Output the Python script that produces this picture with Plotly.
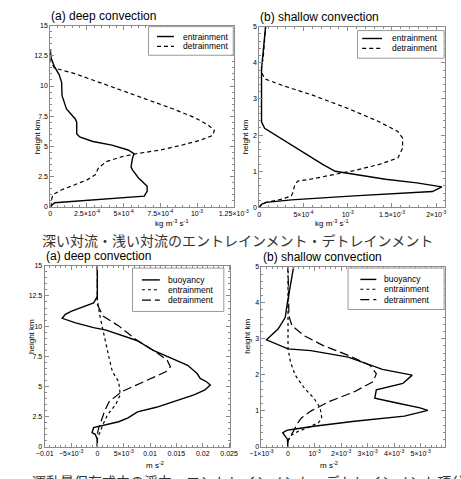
import plotly.graph_objects as go

W, H = 461, 479

# ---------------- data (heights in km) ----------------
# (a) deep convection: entrainment / detrainment [kg m-3 s-1]
ent_deep_z = [0, 0.33, 0.87, 1.28, 1.7, 2.4, 3.05, 3.3, 4.0, 4.4, 4.7, 5.1, 5.4, 5.78, 6.05, 7.0, 7.27,
              8.1, 9.2, 10.3, 10.95, 11.6, 12.3, 12.7, 13.0]
ent_deep = [0, 0.03e-3, 0.64e-3, 0.66e-3, 0.66e-3, 0.6e-3, 0.56e-3, 0.55e-3, 0.56e-3, 0.57e-3, 0.53e-3,
            0.42e-3, 0.29e-3, 0.2e-3, 0.18e-3, 0.18e-3, 0.17e-3, 0.11e-3, 0.08e-3, 0.077e-3, 0.06e-3,
            0.028e-3, 0.006e-3, 0, 0]
det_deep_z = [0, 0.46, 1.0, 1.42, 1.82, 2.23, 2.64, 3.19, 3.73, 4.14, 4.41, 4.68, 5.09, 5.5, 5.9, 6.32,
              6.78, 7.41, 8.14, 8.9, 9.67, 10.32, 11.03, 11.49, 12.0, 12.7]
det_deep = [0.006e-3, 0.006e-3, 0.017e-3, 0.081e-3, 0.167e-3, 0.252e-3, 0.306e-3, 0.327e-3, 0.38e-3,
            0.487e-3, 0.594e-3, 0.744e-3, 0.893e-3, 1.02e-3, 1.107e-3, 1.118e-3, 1.075e-3, 0.979e-3,
            0.829e-3, 0.658e-3, 0.487e-3, 0.338e-3, 0.167e-3, 0.028e-3, 0.004e-3, 0]

# (b) shallow convection: entrainment / detrainment [kg m-3 s-1]
ent_shal_z = [0, 0.09, 0.14, 0.21, 0.32, 0.38, 0.44, 0.57, 0.68, 0.78, 0.91, 1.0, 1.19, 1.46, 1.73,
              2.01, 2.19, 2.37, 2.92, 3.83, 4.29, 4.74, 5.0]
ent_shal = [0, 0.025e-3, 0.078e-3, 0.362e-3, 1.071e-3, 1.603e-3, 1.957e-3, 2.064e-3, 1.78e-3, 1.426e-3,
            1.071e-3, 0.858e-3, 0.716e-3, 0.539e-3, 0.362e-3, 0.184e-3, 0.06e-3, 0.025e-3, 0.025e-3,
            0.025e-3, 0.043e-3, 0.06e-3, 0.071e-3]
det_shal_z = [0, 0.05, 0.14, 0.23, 0.32, 0.41, 0.59, 0.73, 0.78, 0.91, 1.02, 1.19, 1.37, 1.64, 1.92,
              2.1, 2.37, 2.74, 3.1, 3.38, 3.56, 3.74, 3.92, 4.1, 4.56, 5.0]
det_shal = [0, 0.007e-3, 0.078e-3, 0.255e-3, 0.362e-3, 0.379e-3, 0.397e-3, 0.433e-3, 0.574e-3, 0.823e-3,
            1.071e-3, 1.355e-3, 1.567e-3, 1.62e-3, 1.62e-3, 1.567e-3, 1.355e-3, 1.0e-3, 0.61e-3,
            0.255e-3, 0.06e-3, 0.025e-3, 0.025e-3, 0.043e-3, 0.06e-3, 0.071e-3]

# (a) deep convection: momentum budget terms [m s-2]
mb_deep_z = [0, 0.63, 1.03, 1.17, 1.58, 1.8, 2.07, 2.4, 2.89, 3.27, 3.76, 4.3, 4.71, 5.12, 5.39, 5.66,
             6.07, 6.75, 7.43, 7.98, 8.79, 9.26, 9.67, 9.88, 10.29, 10.65, 10.97, 11.24, 11.65, 11.92,
             12.47, 15.0]
buoy_deep = [0, 0, -0.00042, -0.00101, -0.00071, 0.00167, 0.00405, 0.00583, 0.00762, 0.01119, 0.01476,
             0.01833, 0.02042, 0.02143, 0.02071, 0.01952, 0.01893, 0.01714, 0.01357, 0.0106, 0.00762,
             0.00464, 0.00167, -0.00071, -0.00429, -0.00667, -0.00607, -0.00488, -0.0025, -0.00071,
             0, 0]
me_deep_z = [0, 0.63, 0.9, 1.17, 1.85, 2.67, 3.48, 4.3, 5.39, 6.21, 7.3, 8.39, 9.75, 10.84, 11.65, 12.2, 15.0]
ment_deep = [0, 0, 0.00018, 0.00048, 0.00107, 0.00196, 0.00345, 0.00435, 0.00405, 0.00286, 0.00226,
             0.00167, 0.00107, 0.00048, 0.00018, 0, 0]
md_deep_z = [0, 1.03, 1.44, 2.12, 2.94, 3.76, 4.57, 5.39, 6.21, 6.62, 7.16, 7.84, 8.79, 10.02, 10.84,
             11.79, 15.0]
mdet_deep = [0, 0, 0.00018, 0.00077, 0.00137, 0.00226, 0.00464, 0.00881, 0.01298, 0.01387, 0.01327,
             0.01119, 0.00762, 0.00405, 0.00107, 0, 0]

# (b) shallow convection: momentum budget terms [m s-2]
mb_shal_z = [0, 0.21, 0.39, 0.46, 0.48, 0.57, 0.71, 0.85, 1.01, 1.08, 1.21, 1.35, 1.58, 1.76, 1.99,
             2.15, 2.49, 2.67, 2.72, 2.86, 2.97, 3.27, 3.59, 4.0, 4.54, 5.0]
buoy_shal = [0, -0.024e-3, -0.2e-3, -0.024e-3, 0.153e-3, 0.976e-3, 2.506e-3, 4.388e-3, 5.271e-3,
             4.976e-3, 4.153e-3, 3.271e-3, 3.329e-3, 4.329e-3, 4.682e-3, 3.56e-3, 2.27e-3, 0.86e-3, 0,
             -0.435e-3, -0.812e-3, -0.376e-3, -0.106e-3, -0.024e-3, 0.094e-3, 0.212e-3]
me_shal_z = [0, 0.16, 0.3, 0.39, 0.53, 0.67, 0.8, 1.08, 1.35, 1.62, 1.99, 2.35, 2.72, 5.0]
ment_shal = [0, 0, 0.094e-3, 0.271e-3, 0.741e-3, 1.153e-3, 1.271e-3, 1.212e-3, 0.976e-3, 0.624e-3,
             0.271e-3, 0.094e-3, 0, 0]
md_shal_z = [0, 0.16, 0.3, 0.44, 0.62, 0.8, 0.99, 1.26, 1.53, 1.81, 2.03, 2.26, 2.54, 2.81, 3.08, 3.36,
             3.63, 5.0]
mdet_shal = [0, 0, 0.094e-3, 0.212e-3, 0.329e-3, 0.506e-3, 0.859e-3, 1.565e-3, 2.506e-3, 3.212e-3,
             3.329e-3, 3.094e-3, 2.271e-3, 1.329e-3, 0.624e-3, 0.153e-3, 0.035e-3, 0]

# tick labels
deep_y_ticks = [0, 2.5, 5, 7.5, 10, 12.5, 15]
deep_y_text = ["0", "2.5", "5", "7.5", "10", "12.5", "15"]
shal_y_ticks = [0, 1, 2, 3, 4, 5]
shal_y_text = ["0", "1", "2", "3", "4", "5"]
x1_ticks = [0, 2.5e-4, 5e-4, 7.5e-4, 1e-3, 1.25e-3]
x1_text = ["0", "2.5×10<sup>-4</sup>", "5×10<sup>-4</sup>", "7.5×10<sup>-4</sup>", "10<sup>-3</sup>",
           "1.25×10<sup>-3</sup>"]
x2_ticks = [0, 5e-4, 1e-3, 1.5e-3, 2e-3]
x2_text = ["0", "5×10<sup>-4</sup>", "10<sup>-3</sup>", "1.5×10<sup>-3</sup>", "2×10<sup>-3</sup>"]
x3_ticks = [-0.01, -0.005, 0, 0.005, 0.01, 0.015, 0.02, 0.025]
x3_text = ["−0.01", "−5×10<sup>-3</sup>", "0", "5×10<sup>-3</sup>", "0.01", "0.015", "0.02", "0.025"]
x4_ticks = [-1e-3, 0, 1e-3, 2e-3, 3e-3, 4e-3, 5e-3]
x4_text = ["−1×10<sup>-3</sup>", "0", "10<sup>-3</sup>", "2×10<sup>-3</sup>", "3×10<sup>-3</sup>",
           "4×10<sup>-3</sup>", "5×10<sup>-3</sup>"]

titles = ["(a) deep convection", "(b) shallow convection", "(a) deep convection", "(b) shallow convection"]
caption1 = "深い対流・浅い対流のエントレインメント・デトレインメント"
caption2 = "運動量保存式中の浮力・エントレインメント・デトレインメント項分布"

# ---------------- figure ----------------
def px(x):
    return x / W

def py(y):
    return 1 - y / H

FONT = "Liberation Sans, Arial, Helvetica, sans-serif"
FRAME = "#8a8a8a"
SOLID = dict(color="black", width=1.4)
DASH_A = dict(color="black", width=1.2, dash="4px,3px")
DASH_S = dict(color="black", width=1.2, dash="3px,3px")
DASH_L = dict(color="black", width=1.2, dash="9px,4px")

fig = go.Figure()

def add(x, z, line, ax):
    fig.add_trace(go.Scatter(x=x, y=z, mode="lines", line=line, xaxis="x" + ax, yaxis="y" + ax,
                             showlegend=False, hoverinfo="skip"))

add(ent_deep, ent_deep_z, SOLID, "")
add(det_deep, det_deep_z, DASH_A, "")
add(ent_shal, ent_shal_z, SOLID, "2")
add(det_shal, det_shal_z, DASH_A, "2")
add(buoy_deep, mb_deep_z, SOLID, "3")
add(ment_deep, me_deep_z, DASH_S, "3")
add(mdet_deep, md_deep_z, DASH_L, "3")
add(buoy_shal, mb_shal_z, SOLID, "4")
add(ment_shal, me_shal_z, DASH_S, "4")
add(mdet_shal, md_shal_z, DASH_L, "4")

def axis(domain, rng, tv, tt, minor_dtick, anchor):
    return dict(domain=domain, range=rng, tickvals=tv, ticktext=tt, ticks="inside", ticklen=4,
                tickcolor=FRAME, showline=True, linecolor=FRAME, linewidth=1, mirror="ticks",
                showgrid=False, zeroline=False, anchor=anchor,
                tickfont=dict(size=7, color="black", family=FONT),
                minor=dict(ticks="inside", ticklen=2, tickcolor=FRAME, dtick=minor_dtick, showgrid=False))

# panel boxes in pixels: (left, top, right, bottom)
boxes = [(40.7, 22, 235.5, 205.7), (262.7, 23, 460, 206.5), (34.7, 265.7, 231.7, 449.3), (265, 266.7, 460, 449.3)]
dom = [([px(b[0]), px(b[2])], [py(b[3]), py(b[1])]) for b in boxes]

fig.update_layout(
    width=W, height=H, margin=dict(l=0, r=0, t=0, b=0),
    paper_bgcolor="white", plot_bgcolor="white", showlegend=False,
    font=dict(family=FONT, color="black"),
    xaxis=axis(dom[0][0], [0, 1.25e-3], x1_ticks, x1_text, 5e-5, "y"),
    yaxis=axis(dom[0][1], [0, 15], deep_y_ticks, deep_y_text, 0.5, "x"),
    xaxis2=axis(dom[1][0], [0, 2.1e-3], x2_ticks, x2_text, 1e-4, "y2"),
    yaxis2=axis(dom[1][1], [0, 5], shal_y_ticks, shal_y_text, 0.2, "x2"),
    xaxis3=axis(dom[2][0], [-0.01, 0.0252], x3_ticks, x3_text, 0.001, "y3"),
    yaxis3=axis(dom[2][1], [0, 15], deep_y_ticks, deep_y_text, 0.5, "x3"),
    xaxis4=axis(dom[3][0], [-1e-3, 5.92e-3], x4_ticks, x4_text, 2e-4, "y4"),
    yaxis4=axis(dom[3][1], [0, 5], shal_y_ticks, shal_y_text, 0.2, "x4"),
)

ann = []
shapes = []

# panel titles
for b, t in zip(boxes, titles):
    ann.append(dict(x=px(b[0] - 1), y=py(b[1] - 1), xref="paper", yref="paper", text=t, showarrow=False,
                    xanchor="left", yanchor="bottom", font=dict(size=12, family=FONT)))

# axis titles
ylab_pos = [(20, 115), (248, 115), (14, 357), (250, 357)]
for (x, y) in ylab_pos:
    ann.append(dict(x=px(x), y=py(y), xref="paper", yref="paper", text="height km", textangle=-90,
                    showarrow=False, font=dict(size=8, family=FONT)))
xlab = [(150, 215, "kg m<sup>-3</sup> s<sup>-1</sup>"), (360, 215, "kg m<sup>-3</sup> s<sup>-1</sup>"),
        (140, 461, "m s<sup>-2</sup>"), (348, 461, "m s<sup>-2</sup>")]
for (x, y, t) in xlab:
    ann.append(dict(x=px(x), y=py(y), xref="paper", yref="paper", text=t, showarrow=False,
                    yanchor="top", font=dict(size=8, family=FONT)))

# captions
ann.append(dict(x=px(240), y=py(240), xref="paper", yref="paper", text=caption1, showarrow=False,
                font=dict(size=14, family="Noto Sans CJK JP", color="#333")))
ann.append(dict(x=px(19), y=py(472), xref="paper", yref="paper", text=caption2, showarrow=False,
                xanchor="left", yanchor="top", font=dict(size=14, family="Noto Sans CJK JP", color="#333")))

# legends: (box l, t, r, b, sample x0, x1, text x, rows[(y, label, line)])
legends = [
    (145, 23, 235, 52, 154, 172, 180, [(33, "entrainment", SOLID), (43, "detrainment", DASH_A)]),
    (367, 27, 459, 55, 372, 393, 401, [(35, "entrainment", SOLID), (45, "detrainment", DASH_A)]),
    (128, 268, 225, 312, 138, 157, 164, [(280, "buoyancy", SOLID), (290, "entrainment", DASH_S),
                                          (300.5, "detrainment", DASH_L)]),
    (357, 268, 459, 310, 370, 387, 393, [(279.5, "buoyancy", SOLID), (289.5, "entrainment", DASH_S),
                                          (300, "detrainment", DASH_L)]),
]
for (l, t, r, b, s0, s1, tx, rows) in legends:
    shapes.append(dict(type="rect", xref="paper", yref="paper", x0=px(l), x1=px(r), y0=py(b), y1=py(t),
                       line=dict(color="#9a9a9a", width=1), fillcolor="white", layer="above"))
    for (y, lab, ln) in rows:
        shapes.append(dict(type="line", xref="paper", yref="paper", x0=px(s0), x1=px(s1), y0=py(y), y1=py(y),
                           line=ln, layer="above"))
        ann.append(dict(x=px(tx), y=py(y), xref="paper", yref="paper", text=lab, showarrow=False,
                        xanchor="left", yanchor="middle", font=dict(size=8.5, family=FONT)))

fig.update_layout(annotations=ann, shapes=shapes)
fig.write_html("out.html", config={"displayModeBar": False},
               post_script="document.body.style.margin='0';document.body.style.overflow='hidden';")
